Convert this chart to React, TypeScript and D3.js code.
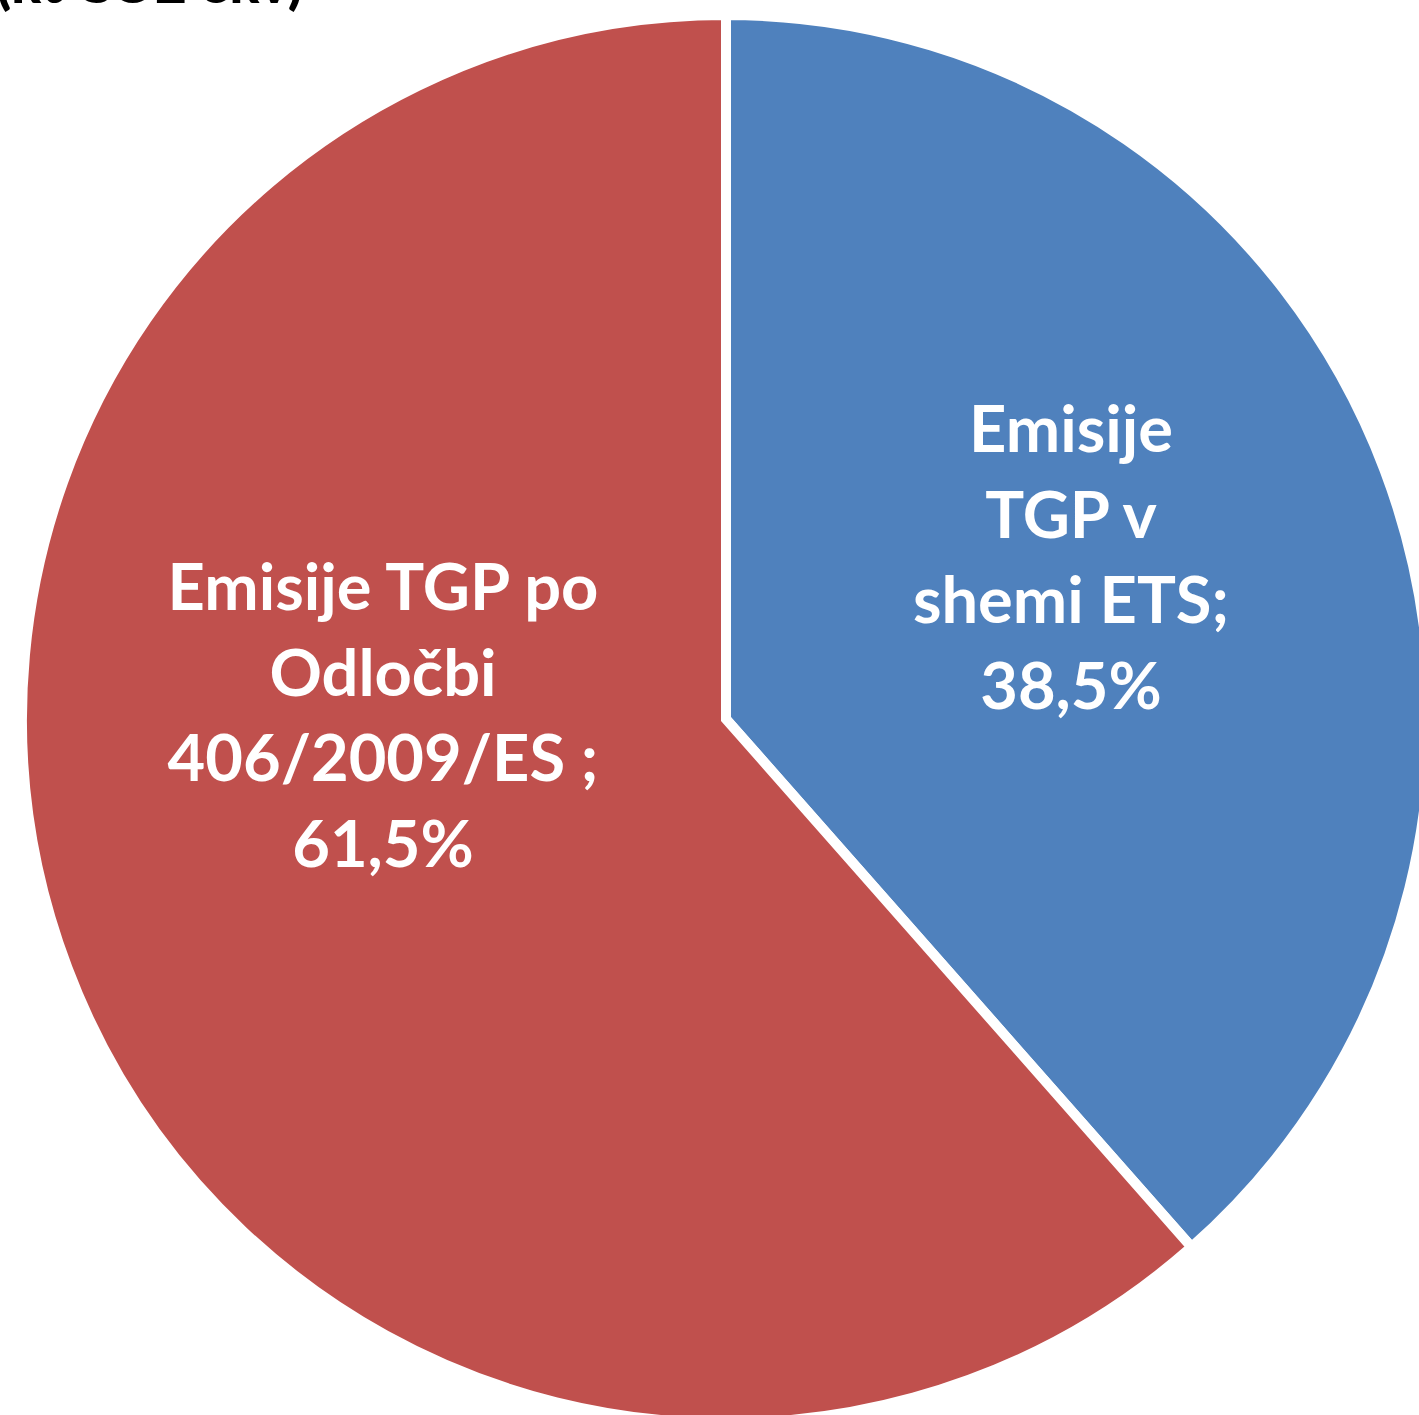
import React from "react";
import * as d3 from "d3";

const categories = ["Emisije TGP v shemi ETS", "Emisije TGP po Odločbi 406/2009/ES"];
const values = [38.5, 61.5];
const colors = ["#4F81BD", "#C0504D"];
const labelLines = [
  ["Emisije", "TGP v", "shemi ETS;", "38,5%"],
  ["Emisije TGP po", "Odločbi", "406/2009/ES ;", "61,5%"],
];
const titleText = "(kt CO2 ekv)";

export default function App() {
  const W = 1419, H = 1415;
  const cx = 726, cy = 719;
  const R = 704;
  const pie = d3.pie<number>().sort(null).value((d) => d)(values);
  const arc = d3.arc<d3.PieArcDatum<number>>().innerRadius(0).outerRadius(R);
  const labelPos = [
    { x: 1071, y: 452 },
    { x: 383, y: 610 },
  ];
  const lh = 85.5;
  return (
    <svg width={W} height={H} style={{ position: "absolute", left: 0, top: 0, background: "#fff" }}>
      <g transform={`translate(${cx},${cy})`}>
        {pie.map((p, i) => (
          <path key={categories[i]} d={arc(p) || ""} fill={colors[i]} stroke="#fff" strokeWidth={10} strokeLinejoin="miter" />
        ))}
      </g>
      {labelLines.map((lines, i) => (
        <text
          key={i}
          fontFamily="Lato, 'Open Sans', sans-serif"
          fontWeight={700}
          fontSize={65}
          fill="#fff"
          textAnchor="middle"
        >
          {lines.map((l, j) => (
            <tspan key={j} x={labelPos[i].x} y={labelPos[i].y + j * lh}>{l}</tspan>
          ))}
        </text>
      ))}
      <text x={-4} y={3} fontFamily="Lato, sans-serif" fontWeight={900} fontSize={55} fill="#000">
        {titleText}
      </text>
    </svg>
  );
}
